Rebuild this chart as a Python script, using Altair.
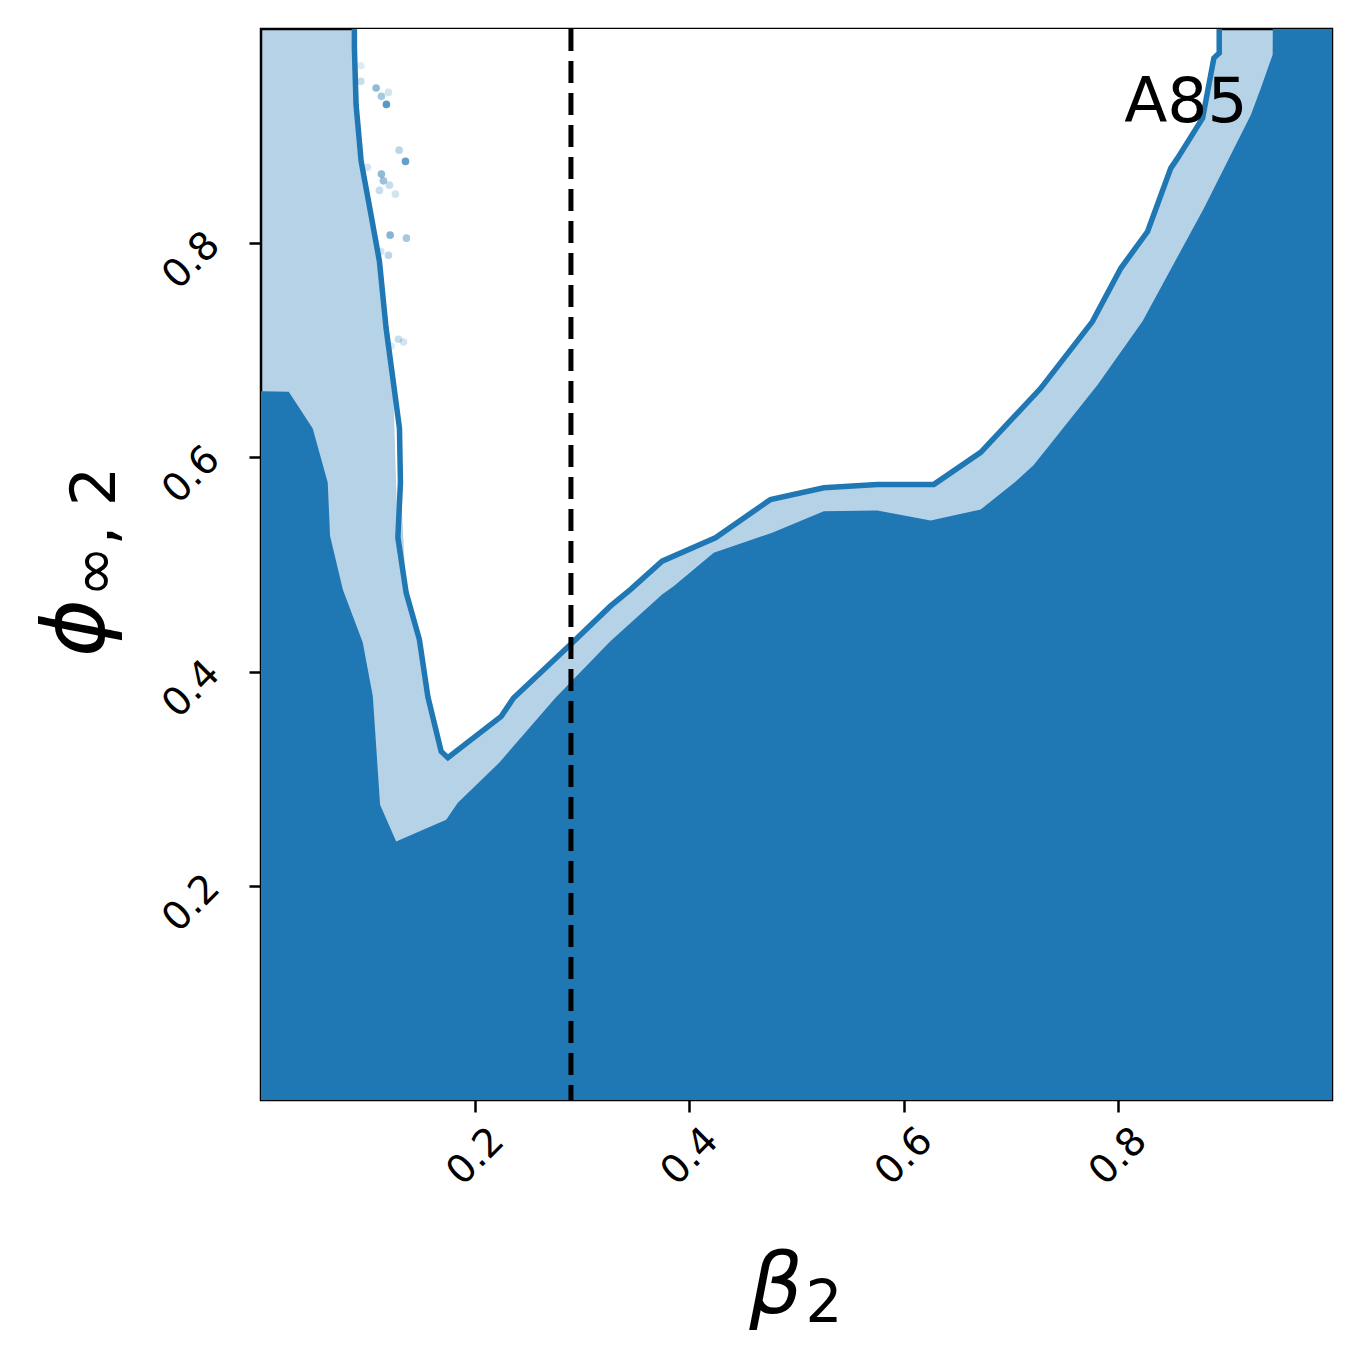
import altair as alt
import pandas as pd

# outer (68%) contour line, in drawing order
outer_x = [0.0872, 0.0872, 0.0888, 0.0935, 0.1028, 0.1106, 0.1168, 0.1231, 0.1293, 0.1302,
           0.1278, 0.1355, 0.1479, 0.1558, 0.1682, 0.1745, 0.2243, 0.2358, 0.2904, 0.3262,
           0.3449, 0.3745, 0.4243, 0.4757, 0.5255, 0.5754, 0.6283, 0.6720, 0.7280, 0.7763,
           0.8028, 0.8278, 0.8495, 0.8558, 0.8792, 0.8897, 0.8947, 0.8947]
outer_y = [1.0, 0.982, 0.929, 0.8766, 0.826, 0.783, 0.7206, 0.6738, 0.627, 0.5766,
           0.5252, 0.4738, 0.4299, 0.3766, 0.3255, 0.3196, 0.3582, 0.3754, 0.4268, 0.4611,
           0.4766, 0.5031, 0.5249, 0.5607, 0.5717, 0.5748, 0.5748, 0.6047, 0.6645, 0.7268,
           0.7766, 0.8109, 0.8701, 0.8794, 0.9168, 0.9729, 0.9776, 1.0]

# inner (dark) region upper boundary
dark_x = [0.0, 0.0259, 0.0483, 0.0623, 0.0645, 0.0764, 0.0950, 0.1044, 0.1112, 0.1262,
          0.1729, 0.1838, 0.2224, 0.2748, 0.3262, 0.3745, 0.3853, 0.4227, 0.4773, 0.5255,
          0.5754, 0.6252, 0.6720, 0.7047, 0.7215, 0.7810, 0.8231, 0.8804, 0.9243, 0.9336,
          0.9446, 0.9447, 1.0]
dark_y = [0.6617, 0.6614, 0.6271, 0.5766, 0.5265, 0.4766, 0.4271, 0.3769, 0.2757, 0.2414,
          0.2617, 0.2776, 0.3150, 0.3754, 0.4283, 0.4720, 0.4798, 0.5110, 0.5297, 0.5498,
          0.5505, 0.5411, 0.5514, 0.5776, 0.5929, 0.6676, 0.7271, 0.8327, 0.9199, 0.9449,
          0.9760, 1.0, 1.0]

# scattered samples outside the contours
pts_x = [0.0932, 0.0932, 0.1075, 0.1190, 0.1124, 0.1171, 0.1290, 0.1349, 0.0993, 0.1124,
         0.1143, 0.1199, 0.1106, 0.1255, 0.1206, 0.1358, 0.1119, 0.1190, 0.1283, 0.1330, 0.1215]
pts_y = [0.9657, 0.9511, 0.9449, 0.9408, 0.9371, 0.9296, 0.8869, 0.8764, 0.8708, 0.8645,
         0.8582, 0.8542, 0.8493, 0.8458, 0.8075, 0.8047, 0.7922, 0.7888, 0.7103, 0.7078, 0.7040]
pts_a = [0.15, 0.25, 0.5, 0.2, 0.4, 0.75, 0.3, 0.7, 0.2, 0.5,
         0.45, 0.25, 0.25, 0.2, 0.55, 0.4, 0.2, 0.3, 0.25, 0.2, 0.15]

truth_x = [0.2894]
ticks = [0.2, 0.4, 0.6, 0.8]
label_text = ["A85"]
label_x = [0.806]
label_y = [0.913]

C0 = "#1f77b4"
LIGHT = "#b5d2e6"
FONT = "DejaVu Sans"

outer_df = pd.DataFrame({"x": outer_x, "y": outer_y, "i": list(range(len(outer_x)))})
outer_df["top"] = 1.0
dark_df = pd.DataFrame({"x": dark_x, "y": dark_y})
dark_df["bot"] = 0.0
pts_df = pd.DataFrame({"x": pts_x, "y": pts_y, "a": pts_a})
truth_df = pd.DataFrame({"x": truth_x})
lab_df = pd.DataFrame({"x": label_x, "y": label_y, "t": label_text})

xs = alt.Scale(domain=[0, 1], nice=False, zero=False)
ys = alt.Scale(domain=[0, 1], nice=False, zero=False)
xax = alt.Axis(values=ticks, format=".1f", title=None)
yax = alt.Axis(values=ticks, format=".1f", title=None)

X = alt.X("x:Q", scale=xs, axis=xax)
Y = alt.Y("y:Q", scale=ys, axis=yax)

white = alt.Chart(outer_df).mark_area(color="white", fill="white", fillOpacity=1).encode(
    x=X, y=Y, y2=alt.Y2("top:Q"))
dark = alt.Chart(dark_df).mark_area(color=C0, fill=C0, fillOpacity=1).encode(
    x=X, y=Y, y2=alt.Y2("bot:Q"))
pts = alt.Chart(pts_df).mark_circle(size=58, color=C0).encode(
    x=X, y=Y, opacity=alt.Opacity("a:Q", scale=None))
line = alt.Chart(outer_df).mark_line(color=C0, strokeWidth=5.5).encode(
    x=X, y=Y, order="i:Q")
rule = alt.Chart(truth_df).mark_rule(color="black", strokeWidth=5, strokeDash=[22, 10]).encode(
    x=X)
lab = alt.Chart(lab_df).mark_text(font=FONT, fontSize=63, align="left", baseline="alphabetic",
                                  color="black").encode(x=X, y=Y, text="t:N")

# axis titles (math-style with subscripts)
title_df = pd.DataFrame({"k": [0]})
beta = alt.Chart(title_df).mark_text(text="β", font=FONT, fontSize=84, fontStyle="italic",
                                     align="center", baseline="alphabetic", color="black").encode(
    x=alt.value(515), y=alt.value(1284))
beta_sub = alt.Chart(title_df).mark_text(text="2", font=FONT, fontSize=58,
                                         align="center", baseline="alphabetic", color="black").encode(
    x=alt.value(563), y=alt.value(1293))
phi = alt.Chart(title_df).mark_text(text="ϕ", font=FONT, fontSize=88, fontStyle="italic", angle=270,
                                    align="center", baseline="alphabetic", color="black").encode(
    x=alt.value(-157), y=alt.value(599))
phi_sub = alt.Chart(title_df).mark_text(text="∞, 2", font=FONT, fontSize=62, angle=270,
                                        align="center", baseline="alphabetic", color="black").encode(
    x=alt.value(-146), y=alt.value(503))

chart = alt.layer(white, dark, pts, line, rule, lab, beta, beta_sub, phi, phi_sub).properties(
    width=1071, height=1071,
    autosize=alt.AutoSizeParams(type="none"),
    padding={"left": 253, "top": 21, "right": 22, "bottom": 253},
).configure_view(
    stroke="black", strokeWidth=2.5, fill=LIGHT
).configure_axis(
    domain=False, grid=False, ticks=True, tickSize=12, tickWidth=2.5, tickColor="black",
    labelFont=FONT, labelFontSize=39, labelColor="black", labelAngle=315,
    labelAlign="center", labelBaseline="middle",
).configure_axisX(
    labelPadding=44
).configure_axisY(
    labelPadding=58, labelOffset=17
)

chart.save("out.html", embed_options={"renderer": "svg", "actions": False})
